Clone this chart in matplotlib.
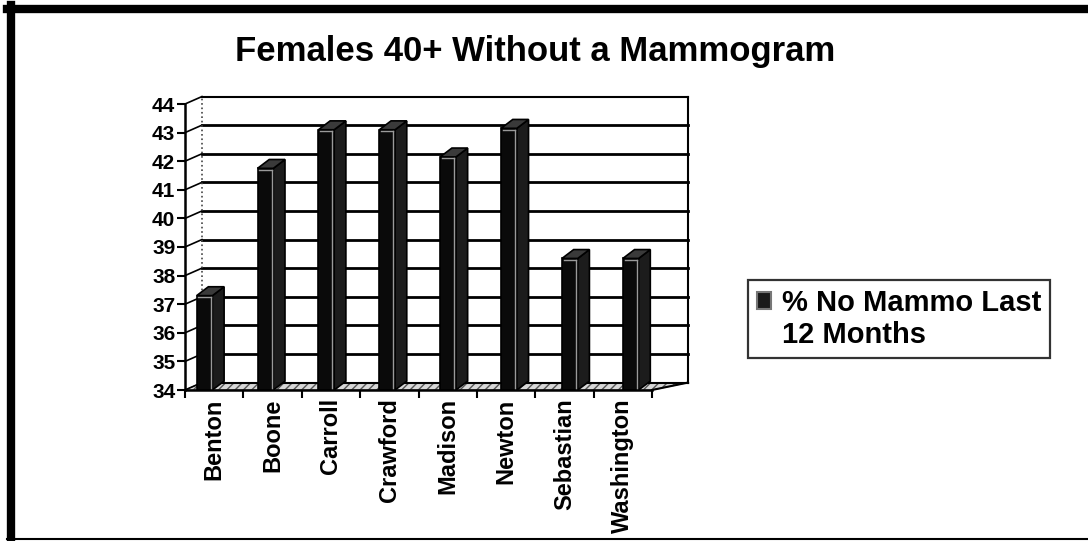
import numpy as np
import matplotlib.pyplot as plt
from matplotlib.patches import Polygon, Rectangle, Patch
from matplotlib.lines import Line2D

plt.rcParams['font.family'] = ['Liberation Sans', 'DejaVu Sans']
plt.rcParams['font.weight'] = 'bold'

# data
counties = ['Benton', 'Boone', 'Carroll', 'Crawford', 'Madison', 'Newton',
            'Sebastian', 'Washington']
pct_no_mammo = [37.3, 41.75, 43.1, 43.1, 42.15, 43.15, 38.6, 38.6]
yticks = list(range(34, 45))
title = 'Females 40+ Without a Mammogram'
series_label = ['% No Mammo Last', '12 Months']

W, H = 1088, 541
fig = plt.figure(figsize=(W / 100, H / 100), dpi=100)
ax = fig.add_axes([185 / W, 1 - 390 / H, (652 - 185) / W, (390 - 104) / H])
ax.set_xlim(-0.5, len(counties) - 0.5)
ax.set_ylim(34, 44)

# back wall / floor (pseudo 3D)
x0, x1 = -0.5, len(counties) - 0.5
def xb(x):
    return -0.21 + (x - x0) * 1.041
yb = 0.26

floor = Polygon([(x0, 34), (x1, 34), (xb(x1), 34 + yb), (xb(x0), 34 + yb)],
                closed=True, facecolor='#d8d8d8', edgecolor='#555555',
                hatch='////', lw=0.8, clip_on=False, zorder=1)
ax.add_patch(floor)
for y in yticks:
    lw = 2.0 if 34 < y < 44 else 1.5
    ax.plot([xb(x0), xb(x1)], [y + yb, y + yb], color='black', lw=lw,
            clip_on=False, zorder=1.5)
    ax.plot([x0, xb(x0)], [y, y + yb], color='black', lw=1.2, clip_on=False, zorder=1.5)
ax.plot([xb(x0), xb(x0)], [34 + yb, 44 + yb], color='#444444', lw=1.2, ls=':',
        clip_on=False, zorder=1.5)
ax.plot([xb(x1), xb(x1)], [34 + yb, 44 + yb], color='black', lw=1.5, clip_on=False, zorder=1.5)
ax.plot([x1, xb(x1)], [34, 34 + yb], color='black', lw=1.5, clip_on=False, zorder=1.5)

# bars: front, side and top faces
n = len(counties)
bw, dx, dy = 0.27, 0.2, 0.31
for i, v in enumerate(pct_no_mammo):
    left = i - 0.30 + 0.043 * i
    right = left + bw
    front = Rectangle((left, 34), bw, v - 34, facecolor='#0a0a0a',
                      edgecolor='black', lw=1.2, zorder=3, clip_on=False)
    side = Polygon([(right, 34), (right + dx, 34 + dy), (right + dx, v + dy), (right, v)],
                   closed=True, facecolor='#1c1c1c', edgecolor='black', lw=1.2,
                   zorder=3, clip_on=False)
    top = Polygon([(left, v), (right, v), (right + dx, v + dy), (left + dx, v + dy)],
                  closed=True, facecolor='#3a3a3a', edgecolor='black', lw=1.2,
                  zorder=3, clip_on=False)
    ax.add_patch(front)
    ax.add_patch(side)
    ax.add_patch(top)
    ax.plot([right - 0.03, right - 0.03], [34.05, v - 0.05], color='#9a9a9a', lw=1,
            zorder=3.5, clip_on=False)
    ax.plot([left + 0.03, right - 0.03], [v - 0.05, v - 0.05], color='#9a9a9a', lw=1,
            zorder=3.5, clip_on=False)

# axes
for s in ['top', 'right']:
    ax.spines[s].set_visible(False)
for s in ['left', 'bottom']:
    ax.spines[s].set_linewidth(1.8)
    ax.spines[s].set_zorder(4)
ax.set_yticks(yticks)
ax.set_yticklabels([str(t) for t in yticks], fontsize=15, fontweight='bold')
ax.tick_params(axis='y', direction='out', length=6, width=1.5, pad=1)
ax.set_xticks(range(n))
ax.set_xticklabels(counties, rotation=90, fontsize=17, fontweight='bold')
ax.tick_params(axis='x', length=0, pad=6)
ax.set_xticks(np.arange(-0.5, n, 1.0), minor=True)
ax.tick_params(axis='x', which='minor', direction='out', length=6, width=1.5)
ax.patch.set_alpha(0)

fig.text(535 / W, 1 - 52 / H, title, ha='center', va='center', fontsize=25,
         fontweight='bold')

handles = [Patch(facecolor='#1a1a1a', edgecolor='#777777', lw=1.5),
           Patch(facecolor='none', edgecolor='none')]
leg = fig.legend(handles, series_label, loc='upper left',
                 bbox_to_anchor=(748 / W, 1 - 280 / H), borderaxespad=0,
                 prop={'weight': 'bold', 'size': 21},
                 frameon=True, fancybox=False, edgecolor='black',
                 handlelength=0.5, handleheight=0.5, handletextpad=0.35,
                 borderpad=0.3, labelspacing=0.15)
leg.get_frame().set_linewidth(1.6)

# outer frame
fig.add_artist(Line2D([7 / W, 1.0], [1 - 9 / H, 1 - 9 / H], color='black', lw=6))
fig.add_artist(Line2D([11 / W, 11 / W], [1 - 5 / H, 1 - 539 / H], color='black', lw=6))
fig.add_artist(Line2D([7 / W, 1.0], [1 - 539 / H, 1 - 539 / H], color='black', lw=1.5))

fig.savefig('out.png', dpi=100, facecolor='white')
